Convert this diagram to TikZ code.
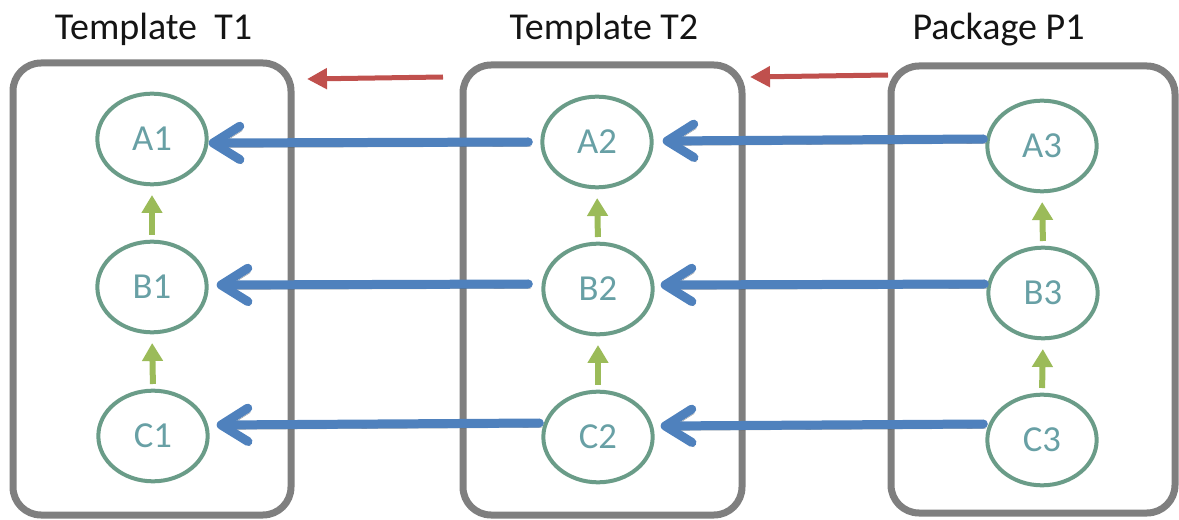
\documentclass[tikz,border=0pt]{standalone}
\usepackage{fontspec}
\setmainfont{Carlito}
\usetikzlibrary{arrows.meta,calc,shapes.geometric}

\definecolor{frame}{RGB}{127,127,127}
\definecolor{ring}{RGB}{106,156,136}
\definecolor{labeltxt}{RGB}{104,160,165}
\definecolor{flowblue}{RGB}{79,129,189}
\definecolor{flowshadow}{RGB}{160,160,160}
\definecolor{upgreen}{RGB}{155,187,89}
\definecolor{inhred}{RGB}{192,80,77}

\tikzset{
  container/.style={draw=frame, line width=5.25pt, rounded corners=21pt},
  elem/.style={ellipse, draw=ring, line width=3pt, minimum width=82pt,
    minimum height=68pt, inner sep=0pt, text=labeltxt,
    font=\fontsize{27.5}{30}\selectfont},
  heading/.style={anchor=base, text=black!92,
    font=\fontsize{28.5}{30}\selectfont},
  flow/.style={draw=flowblue, line width=6.75pt, line cap=round,
    -{Straight Barb[length=20pt, width=25pt, line cap=round, line join=round]},
    preaction={draw=flowshadow, blend mode=multiply,
      transform canvas={shift={(1.8pt,-3.3pt)}}}},
  uparr/.style={draw=upgreen, line width=4.5pt,
    -{Triangle[length=13.5pt, width=15pt]},
    shorten <=3.5pt, shorten >=6.5pt},
  inherit/.style={draw=inhred, line width=3.75pt,
    -{Triangle[length=15pt, width=15pt]}},
}

\begin{document}
\begin{tikzpicture}[x=0.75pt, y=-0.75pt]
  \useasboundingbox (0,0) rectangle (1179,520);

  % containers
  \draw[container] (13,63) rectangle (291,515);
  \draw[container] (463,65) rectangle (742,515);
  \draw[container] (891,66) rectangle (1175,513);

  % headings
  \node[heading] (hT1) at (153.5,40) {Template\ \ T1};
  \node[heading] (hT2) at (604,40) {Template T2};
  \node[heading] (hP1) at (998.5,40) {Package P1};

  % elements
  \node[elem] (A1) at (152,139) {A1};
  \node[elem] (B1) at (152,287) {B1};
  \node[elem] (C1) at (153,436) {C1};
  \node[elem] (A2) at (597,142) {A2};
  \node[elem] (B2) at (598,289) {B2};
  \node[elem] (C2) at (598,437) {C2};
  \node[elem] (A3) at (1042,146) {A3};
  \node[elem] (B3) at (1043,293) {B3};
  \node[elem] (C3) at (1042,440) {C3};

  % vertical dependencies
  \draw[uparr] (B1.north) -- (A1.south);
  \draw[uparr] (C1.north) -- (B1.south);
  \draw[uparr] (B2.north) -- (A2.south);
  \draw[uparr] (C2.north) -- (B2.south);
  \draw[uparr] (B3.north) -- (A3.south);
  \draw[uparr] (C3.north) -- (B3.south);

  % horizontal flows
  \draw[flow] ($(A3.west)+(-2,-7)$) -- ($(A2.east)+(9,-1)$);
  \draw[flow] ($(A2.west)+(-12,0)$) -- ($(A1.east)+(0,4)$);
  \draw[flow] ($(B3.west)+(-2,-9)$) -- ($(B2.east)+(6,-4)$);
  \draw[flow] ($(B2.west)+(-13,-5)$) -- ($(B1.east)+(8,-2)$);
  \draw[flow] ($(C3.west)+(-2,-16)$) -- ($(C2.east)+(6,-11)$);
  \draw[flow] ($(C2.west)+(-2,-14)$) -- ($(C1.east)+(7,-11)$);

  % inheritance arrows between containers
  \coordinate (r1s) at (443,77);
  \coordinate (r1e) at (307,79);
  \coordinate (r2s) at (888,75);
  \coordinate (r2e) at (750,77);
  \draw[inherit] (r1s) -- (r1e);
  \draw[inherit] (r2s) -- (r2e);
\end{tikzpicture}
\end{document}
